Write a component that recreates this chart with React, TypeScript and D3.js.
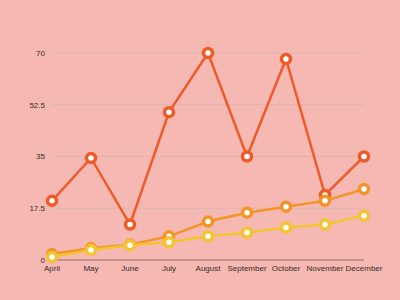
import React from "react";
import * as d3 from "d3";

const months = ["April", "May", "June", "July", "August", "September", "October", "November", "December"];
const seriesRed = [20, 34.5, 12, 50, 70, 35, 68, 22, 35];
const seriesOrange = [2, 4, 5.2, 8, 13, 16, 18, 20, 24];
const seriesYellow = [1, 3.4, 5, 6, 8, 9.2, 11, 12, 15];
const yTicks = [0, 17.5, 35, 52.5, 70];

const W = 400, H = 300;
const colors = ["#ef5b28", "#f39426", "#f4c430"];

export default function App() {
  const x = d3.scalePoint<string>().domain(months).range([52, 364]);
  const y = d3.scaleLinear().domain([0, 70]).range([260, 53]);
  const line = d3.line<number>().x((_, i) => x(months[i])!).y((d) => y(d));
  const series = [seriesRed, seriesOrange, seriesYellow];
  return (
    <svg width={W} height={H} style={{ position: "absolute", left: 0, top: 0, display: "block" }} fontFamily="Helvetica, Arial, 'Liberation Sans', sans-serif">
      <rect width={W} height={H} fill="#f5b8b2" />
      {yTicks.map((t) => (
        <g key={t}>
          {t !== 0 && <line x1={52} x2={364} y1={y(t)} y2={y(t)} stroke="#d9b5b0" strokeWidth={1} />}
          <text x={45} y={y(t)} dy="0.35em" textAnchor="end" fontSize={8} fill="#3a2a28">{t}</text>
        </g>
      ))}
      <line x1={52} x2={364} y1={y(0)} y2={y(0)} stroke="#8c6f6a" strokeWidth={1} />
      {months.map((m) => (
        <text key={m} x={x(m)} y={271} textAnchor="middle" fontSize={8} fill="#3a2a28">{m}</text>
      ))}
      {series.map((s, si) => (
        <g key={si}>
          <path d={line(s)!} fill="none" stroke={colors[si]} strokeWidth={2.5} />
          {s.map((v, i) => (
            <circle key={i} cx={x(months[i])} cy={y(v)} r={4.5} fill="#ffffff" stroke={colors[si]} strokeWidth={3.5} />
          ))}
        </g>
      ))}
    </svg>
  );
}
